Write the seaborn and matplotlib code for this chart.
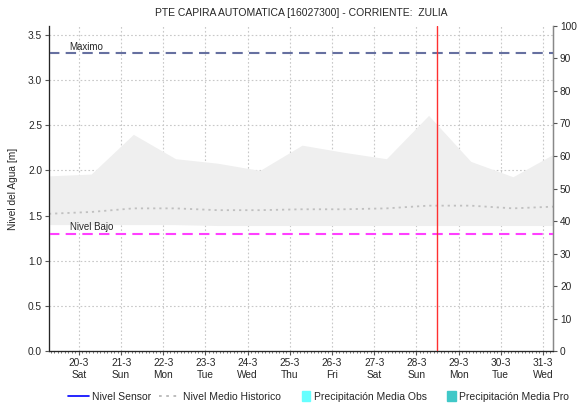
import matplotlib
matplotlib.use("Agg")
import matplotlib.pyplot as plt
import seaborn as sns
import pandas as pd
from matplotlib.lines import Line2D
from matplotlib.patches import Patch, Rectangle
from matplotlib.legend_handler import HandlerPatch

# dias (0 = 20-3), puntos a las 07:00 de cada dia
dias = [-0.71, 0.29, 1.29, 2.29, 3.29, 4.29, 5.29, 6.29, 7.29, 8.29, 9.29, 10.29, 11.29]
banda_sup = [1.94, 1.96, 2.40, 2.13, 2.08, 2.00, 2.28, 2.20, 2.13, 2.61, 2.10, 1.93, 2.19]
banda_inf = [1.40, 1.40, 1.40, 1.40, 1.39, 1.39, 1.39, 1.39, 1.39, 1.39, 1.39, 1.39, 1.39]
medio_hist = [1.52, 1.54, 1.58, 1.58, 1.56, 1.56, 1.57, 1.57, 1.58, 1.61, 1.61, 1.58, 1.60]

fechas = ["20-3", "21-3", "22-3", "23-3", "24-3", "25-3", "26-3", "27-3", "28-3", "29-3", "30-3", "31-3"]
dias_sem = ["Sat", "Sun", "Mon", "Tue", "Wed", "Thu", "Fri", "Sat", "Sun", "Mon", "Tue", "Wed"]

nivel_maximo = 3.3
nivel_bajo = 1.3
ahora = 8.5

sns.set_style("white")
plt.rcParams['font.family'] = ['Liberation Sans', 'DejaVu Sans']

df = pd.DataFrame({'dia': dias, 'medio': medio_hist})

fig = plt.figure(figsize=(5.82, 4.03), dpi=100)
ax = fig.add_axes([0.0842, 0.129, 0.866, 0.8065])

ax.fill_between(dias, banda_inf, banda_sup, color='#efefef', lw=0, zorder=1)
sns.lineplot(data=df, x='dia', y='medio', ax=ax, color='#c0c0c0',
             linestyle=(0, (1.2, 2.2)), lw=1.3, zorder=2)

ax.axhline(nivel_maximo, color='#6670a0', ls=(0, (5, 3)), lw=1.5, zorder=3)
ax.axhline(nivel_bajo, color='#ff40ff', ls=(0, (5, 3)), lw=1.5, zorder=3)
ax.axvline(ahora, color='#ff3030', lw=1.0, zorder=4)
ax.text(-0.24, nivel_maximo + 0.015, "Maximo", fontsize=7, va='bottom')
ax.text(-0.22, nivel_bajo + 0.015, "Nivel Bajo", fontsize=7, va='bottom')

ax.set_xticks(range(len(fechas)))
ax.set_xticklabels([f"{f}\n{d}" for f, d in zip(fechas, dias_sem)], fontsize=7.3, linespacing=1.25)
ax.set_xticks([i / 12 for i in range(-8, 12 * 12 + 3)], minor=True)
ax.set_yticks([0, 0.5, 1.0, 1.5, 2.0, 2.5, 3.0, 3.5])
ax.set_yticklabels(["0.0", "0.5", "1.0", "1.5", "2.0", "2.5", "3.0", "3.5"], fontsize=7.3)
ax.set_xlim(-0.71, 11.24)
ax.set_ylim(0, 3.6)
ax.tick_params(axis='x', which='major', length=3, color='#555555', pad=2, bottom=True)
ax.tick_params(axis='x', which='minor', length=1.5, width=0.6, color='#555555', bottom=True)
ax.tick_params(axis='y', length=3, color='#555555', left=True, pad=2)
ax.grid(True, color='#c8c8c8', ls=(0, (1.5, 2)), lw=0.8, zorder=0)
ax.set_axisbelow(True)
ax.set_xlabel("")
ax.set_ylabel("Nivel del Agua [m]", fontsize=7.3, labelpad=7)
ax.set_title("PTE CAPIRA AUTOMATICA [16027300] - CORRIENTE:  ZULIA", fontsize=7.5, pad=7)

for s in ['left', 'right', 'bottom']:
    ax.spines[s].set_color('#888888')
    ax.spines[s].set_linewidth(1.0)
ax.spines['top'].set_visible(False)

ax2 = ax.twinx()
ax2.set_yticks(range(0, 101, 10))
ax2.set_ylim(0, 100)
ax2.tick_params(axis='y', length=3, color='#555555', labelsize=7.3, right=True, pad=2)
ax2.spines['top'].set_visible(False)
ax2.spines['right'].set_color('#888888')
ax2.set_ylabel("Precipitación [mm]", fontsize=7.3, labelpad=20)


def caja_angosta(legend, orig_handle, xdescent, ydescent, width, height, fontsize):
    # parche estrecho pegado al texto
    return Rectangle((width - 6 - xdescent, -ydescent - 1), 6, height + 2)


handles = [
    Line2D([0], [0], color='#0000ff', lw=1.2),
    Line2D([0], [0], color='#b8b8b8', lw=1.3, ls=(0, (1.5, 2.5))),
    Patch(color='#66ffff'),
    Patch(color='#40c8c8'),
]
labels = ["Nivel Sensor", "Nivel Medio Historico", "Precipitación Media Obs", "Precipitación Media Pro"]
fig.legend(handles, labels, loc='lower center', bbox_to_anchor=(0.547, -0.02), ncol=4,
           fontsize=7.5, frameon=False, handlelength=2.0, handletextpad=0.3,
           columnspacing=0.8,
           handler_map={Patch: HandlerPatch(patch_func=caja_angosta)})

fig.savefig("out.png", dpi=100)
